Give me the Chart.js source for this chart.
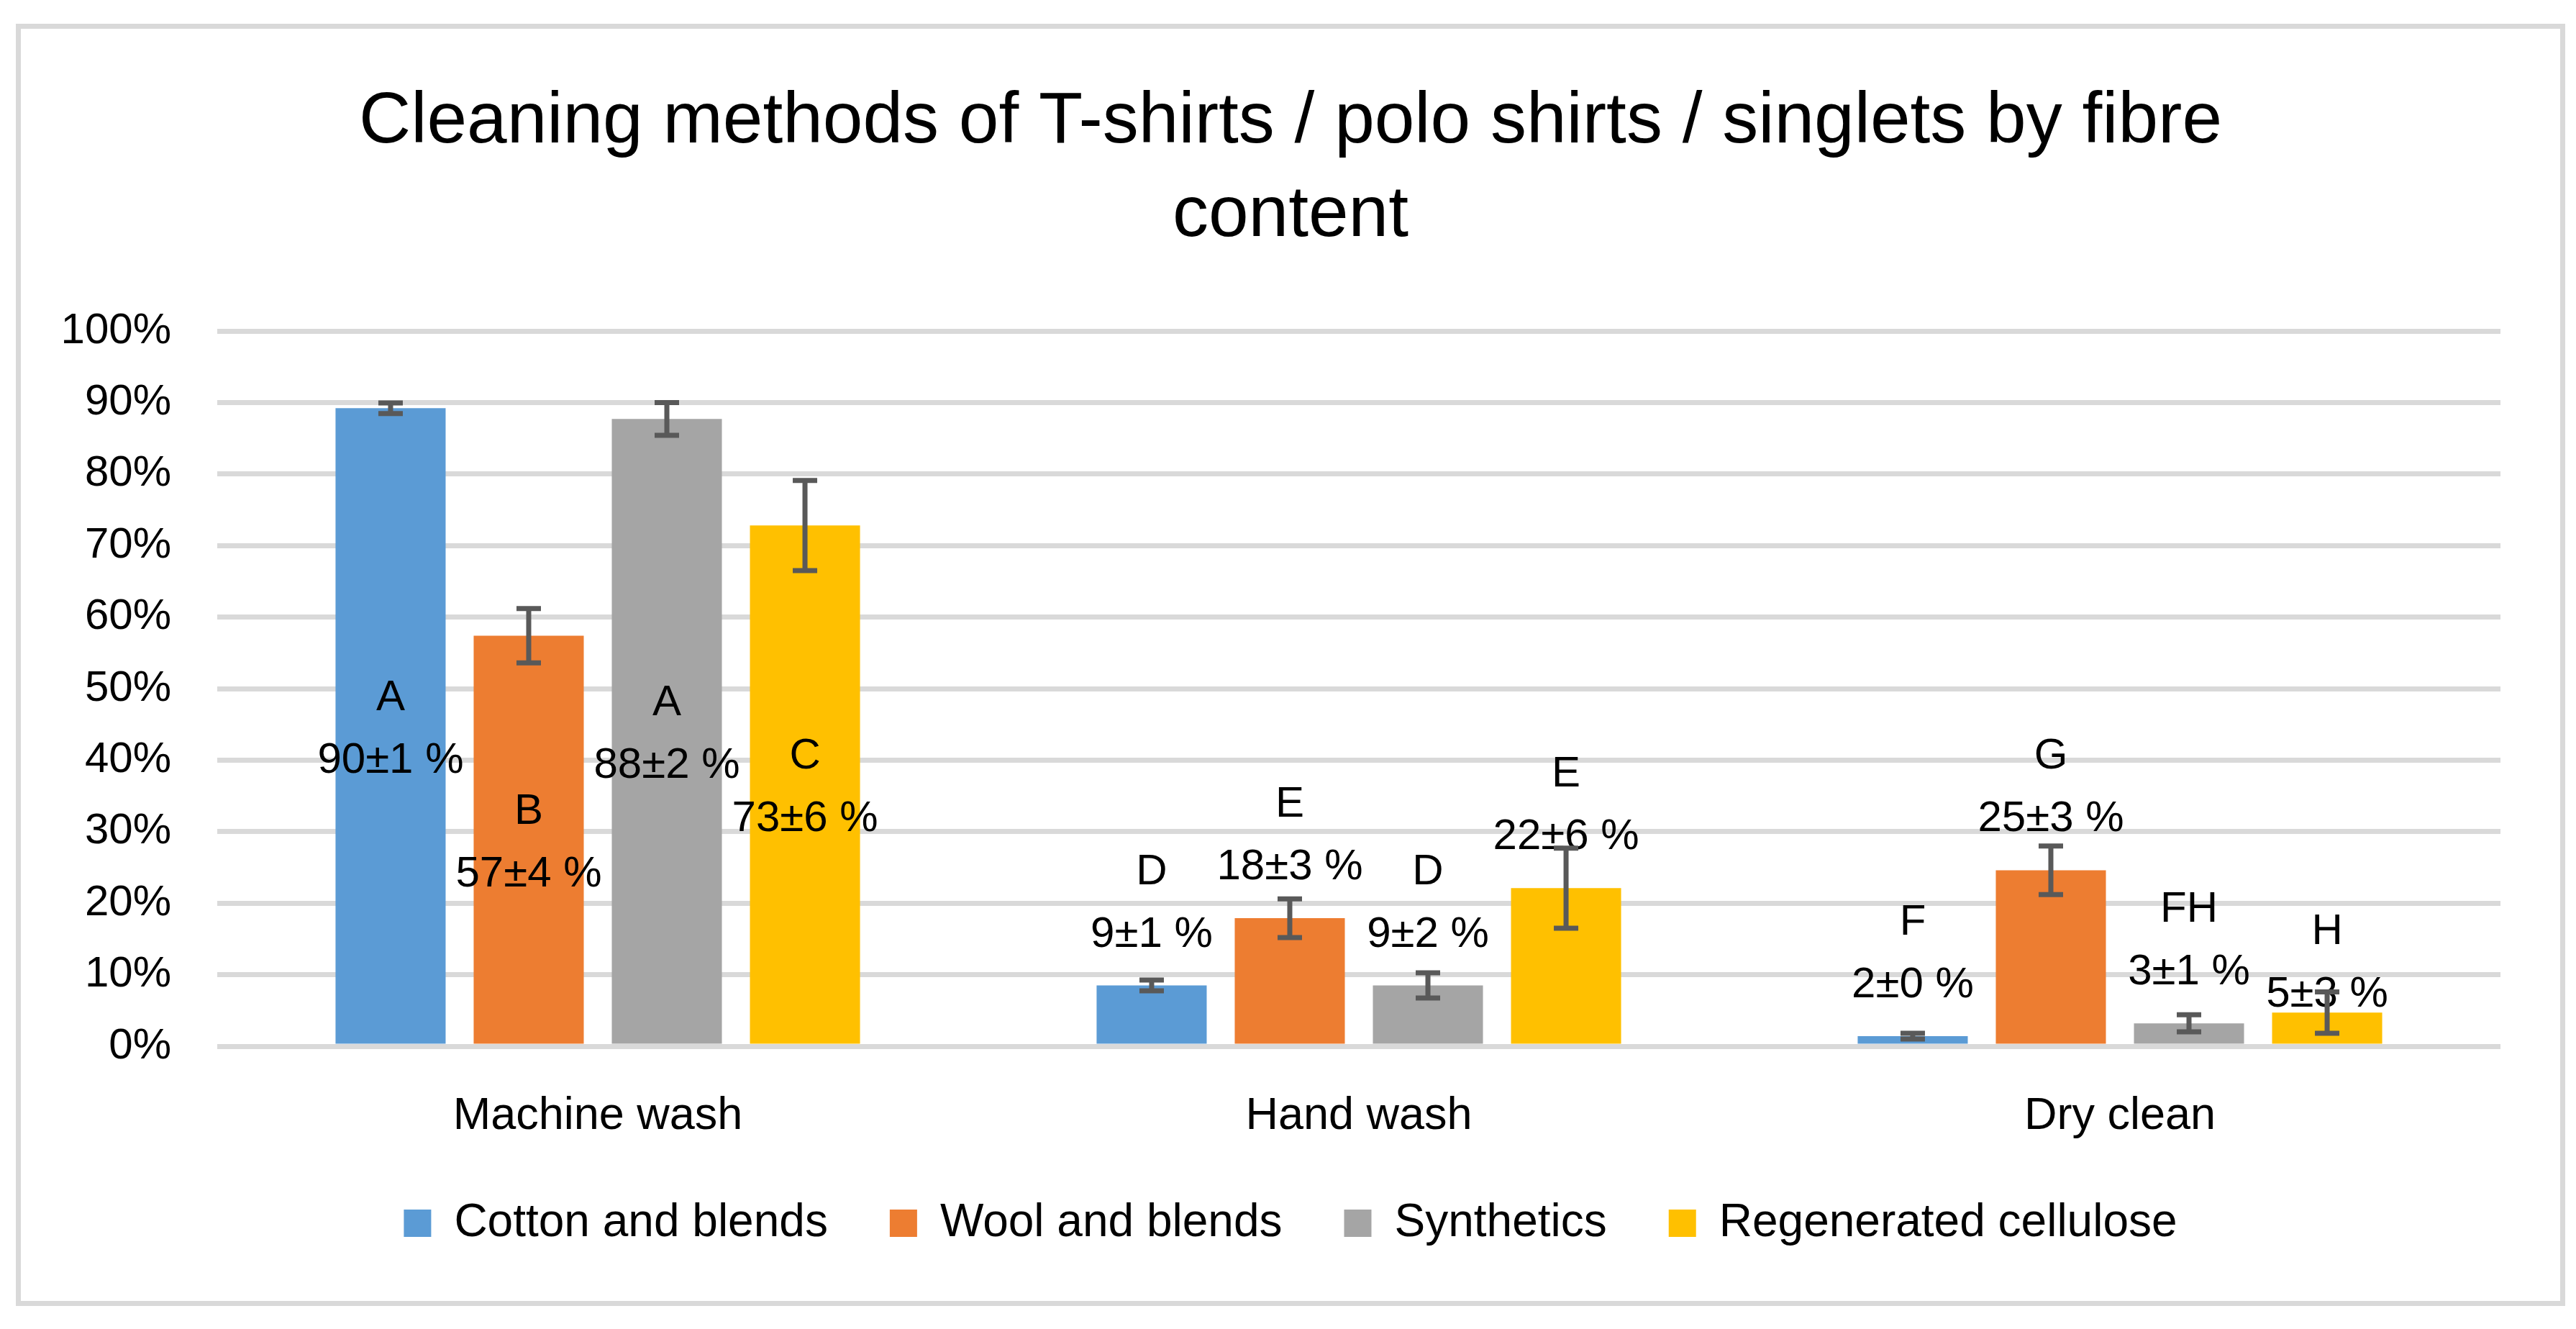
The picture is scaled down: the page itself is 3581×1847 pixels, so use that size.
<!DOCTYPE html>
<html>
<head>
<meta charset="utf-8">
<title>Cleaning methods of T-shirts / polo shirts / singlets by fibre content</title>
<script src="https://cdn.jsdelivr.net/npm/chart.js@4.4.1/dist/chart.umd.min.js"></script>
<style>
    html, body { margin: 0; padding: 0; background: #fff; }
    #frame { position: absolute; left: 22px; top: 33px; width: 3544px; height: 1782px; border: 7px solid #d9d9d9; box-sizing: border-box; }
    #wrap { position: absolute; left: 0; top: 0; width: 3530px; height: 1768px; }
</style>
</head>
<body>
<div id="frame"><div id="wrap"><canvas id="myChart"></canvas></div></div>
<script>
// DATA
const categories = ['Machine wash', 'Hand wash', 'Dry clean'];

const cottonValues = [89.2, 8.5, 1.4];
const woolValues = [57.4, 17.9, 24.6];
const syntheticsValues = [87.7, 8.5, 3.2];
const regeneratedValues = [72.8, 22.1, 4.7];

const cottonErrors = [0.75, 0.75, 0.4];
const woolErrors = [3.8, 2.7, 3.4];
const syntheticsErrors = [2.3, 1.75, 1.2];
const regeneratedErrors = [6.3, 5.6, 2.9];

const cottonLetters = ['A', 'D', 'F'];
const woolLetters = ['B', 'E', 'G'];
const syntheticsLetters = ['A', 'D', 'FH'];
const regeneratedLetters = ['C', 'E', 'H'];

const cottonLabels = ['90±1 %', '9±1 %', '2±0 %'];
const woolLabels = ['57±4 %', '18±3 %', '25±3 %'];
const syntheticsLabels = ['88±2 %', '9±2 %', '3±1 %'];
const regeneratedLabels = ['73±6 %', '22±6 %', '5±3 %'];

const yMax = 100;
const yStep = 10;
// DATA

const FONT = '"Liberation Sans", Arial, sans-serif';

// LETTERS, DATA LABELS AND ERROR BARS
const labelsAndErrors = {
    id: 'labelsAndErrors',
    afterDatasetsDraw(chart) {
        const ctx = chart.ctx;
        const yScale = chart.scales.y;
        chart.data.datasets.forEach(function(ds, i) {
            const meta = chart.getDatasetMeta(i);
            meta.data.forEach(function(bar, j) {
                const value = ds.data[j];

                // labels: centred in the tall machine wash bars, above the others
                let line2;
                if (j === 0) {
                    line2 = (bar.y + bar.base) / 2 + 65;
                } else {
                    line2 = bar.y - 54;
                }
                if (ds.labelShift) line2 += ds.labelShift[j];
                ctx.save();
                ctx.font = '60px ' + FONT;
                ctx.fillStyle = '#000';
                ctx.textAlign = 'center';
                ctx.textBaseline = 'alphabetic';
                ctx.fillText(ds.letters[j], bar.x, line2 - 87);
                ctx.fillText(ds.valueLabels[j], bar.x, line2);
                ctx.restore();

                // error bar
                const top = yScale.getPixelForValue(value + ds.errors[j]);
                const bottom = yScale.getPixelForValue(value - ds.errors[j]);
                ctx.save();
                ctx.strokeStyle = '#595959';
                ctx.lineWidth = 7;
                ctx.beginPath();
                ctx.moveTo(bar.x, top);
                ctx.lineTo(bar.x, bottom);
                ctx.moveTo(bar.x - 17, top);
                ctx.lineTo(bar.x + 17, top);
                ctx.moveTo(bar.x - 17, bottom);
                ctx.lineTo(bar.x + 17, bottom);
                ctx.stroke();
                ctx.restore();
            });
        });
    }
};

const ctx = document.getElementById('myChart').getContext('2d');
new Chart(ctx, {
    type: 'bar',
    data: {
        labels: categories,
        datasets: [{
            label: 'Cotton and blends',
            data: cottonValues,
            errors: cottonErrors,
            letters: cottonLetters,
            valueLabels: cottonLabels,
            backgroundColor: '#5B9BD5'
        }, {
            label: 'Wool and blends',
            data: woolValues,
            errors: woolErrors,
            letters: woolLetters,
            valueLabels: woolLabels,
            backgroundColor: '#ED7D31'
        }, {
            label: 'Synthetics',
            data: syntheticsValues,
            errors: syntheticsErrors,
            letters: syntheticsLetters,
            valueLabels: syntheticsLabels,
            backgroundColor: '#A5A5A5'
        }, {
            label: 'Regenerated cellulose',
            data: regeneratedValues,
            errors: regeneratedErrors,
            letters: regeneratedLetters,
            valueLabels: regeneratedLabels,
            labelShift: [0, 0, 46],   // this label sits lower, on its error bar
            backgroundColor: '#FFC000'
        }]
    },
    options: {
        responsive: true,
        maintainAspectRatio: false,
        animation: false,
        devicePixelRatio: 1,
        categoryPercentage: 0.726,
        barPercentage: 0.797,
        layout: {
            padding: { left: 0, right: 0, top: 0, bottom: 66 }
        },
        scales: {
            x: {
                grid: { display: false },
                border: { display: false },
                ticks: {
                    color: '#000',
                    padding: 52,
                    font: { family: FONT, size: 63 }
                },
                afterFit: function(scale) { scale.height = 128; }
            },
            y: {
                min: 0,
                max: yMax,
                grid: { color: '#d9d9d9', lineWidth: 7, drawTicks: false },
                border: { display: false },
                ticks: {
                    stepSize: yStep,
                    color: '#000',
                    padding: 64,
                    font: { family: FONT, size: 60 },
                    callback: function(v) { return v + '%'; }
                },
                afterFit: function(scale) { scale.width = 273; }
            },
            // empty right margin so title and legend stay centred on the whole chart
            yRight: {
                position: 'right',
                grid: { display: false },
                border: { display: false },
                ticks: { display: false },
                afterFit: function(scale) { scale.width = 83; }
            }
        },
        plugins: {
            title: {
                display: true,
                text: ['Cleaning methods of T-shirts / polo shirts / singlets by fibre', 'content'],
                color: '#000',
                font: { family: FONT, size: 100, weight: 'normal', lineHeight: 1.3 },
                padding: { top: 65, bottom: 95 }
            },
            legend: {
                position: 'bottom',
                labels: {
                    boxWidth: 38,
                    boxHeight: 38,
                    padding: 86,
                    color: '#000',
                    font: { family: FONT, size: 64 }
                }
            },
            tooltip: { enabled: false }
        }
    },
    plugins: [labelsAndErrors]
});
</script>
</body>
</html>
